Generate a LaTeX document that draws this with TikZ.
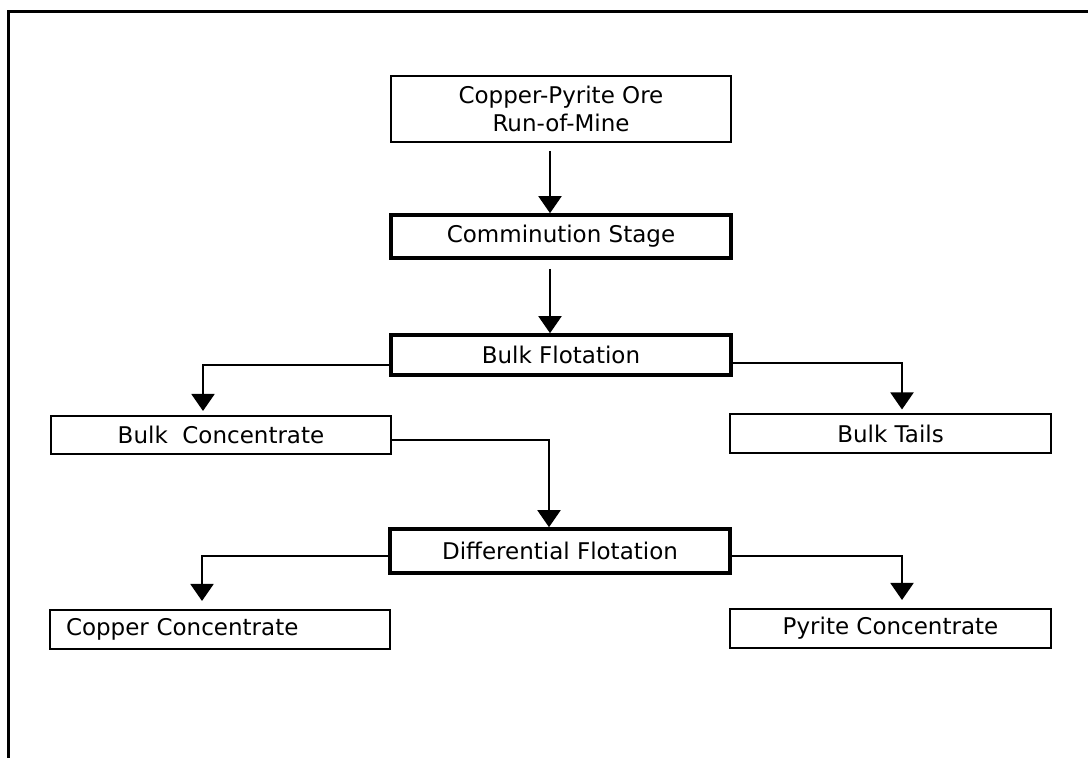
\documentclass[tikz,border=0pt]{standalone}
\usepackage{fontspec}
\setmainfont{DejaVu Sans}
\usepackage{tikz}
\usetikzlibrary{arrows.meta,positioning}
\tikzset{
  box/.style={rectangle, draw=black, line width=1pt, align=center,
    font=\fontsize{11.5}{14}\selectfont, inner sep=2pt},
  stage/.style={box, line width=1.8pt},
  flow/.style={-{Triangle[length=8.5pt,width=11.5pt]}, line width=1pt},
}
\begin{document}
\begin{tikzpicture}[
  x=0.5pt, y=-0.5pt,
  wide/.style={minimum width=170pt, minimum height=#1},
  side/.style={minimum width=160.5pt, minimum height=19.5pt},
]
\useasboundingbox (0,0) rectangle (1088,758);
% frame
\draw[line width=1.5pt] (1088,12) -- (8,12) -- (8,758);
% process stages
\node[box, wide=33pt]     (ore)   at (561,109)   {Copper-Pyrite Ore\\Run-of-Mine};
\node[stage, wide=21.5pt] (comm)  at (561,236.5) {Comminution Stage};
\node[stage, wide=20pt]   (bflot) at (561,355)   {Bulk Flotation};
\node[stage, wide=22pt]   (dflot) at (560,551)   {Differential Flotation};
% products
\node[box, wide=19pt]  (bconc)  at (221,435)     {Bulk\ \ Concentrate};
\node[box, side]       (btail)  at (890.5,434)   {Bulk Tails};
\node[box, wide=19.5pt, text width=154pt, align=left, inner xsep=8pt]
                       (cuconc) at (220,629.5)   {Copper Concentrate};
\node[box, side]       (pyconc) at (890.5,628.5) {Pyrite Concentrate};
% edges
\draw[flow] ([xshift=-5.5pt,yshift=-4pt]ore.south) -- ([xshift=-5.5pt]comm.north);
\draw[flow] ([xshift=-5.5pt,yshift=-4.5pt]comm.south) -- ([xshift=-5.5pt]bflot.north);
\draw[flow] ([yshift=-5pt]bflot.west) -| ([xshift=-9pt,yshift=2pt]bconc.north);
\draw[flow] ([yshift=-4pt]bflot.east) -| ([xshift=5.75pt,yshift=2pt]btail.north);
\draw[flow] ([yshift=-2.5pt]bconc.east) -| ([xshift=-5.5pt]dflot.north);
\draw[flow] ([yshift=-2.5pt]dflot.west) -| ([xshift=-9pt,yshift=4pt]cuconc.north);
\draw[flow] ([yshift=-2.5pt]dflot.east) -| ([xshift=5.75pt,yshift=4pt]pyconc.north);
\end{tikzpicture}
\end{document}
